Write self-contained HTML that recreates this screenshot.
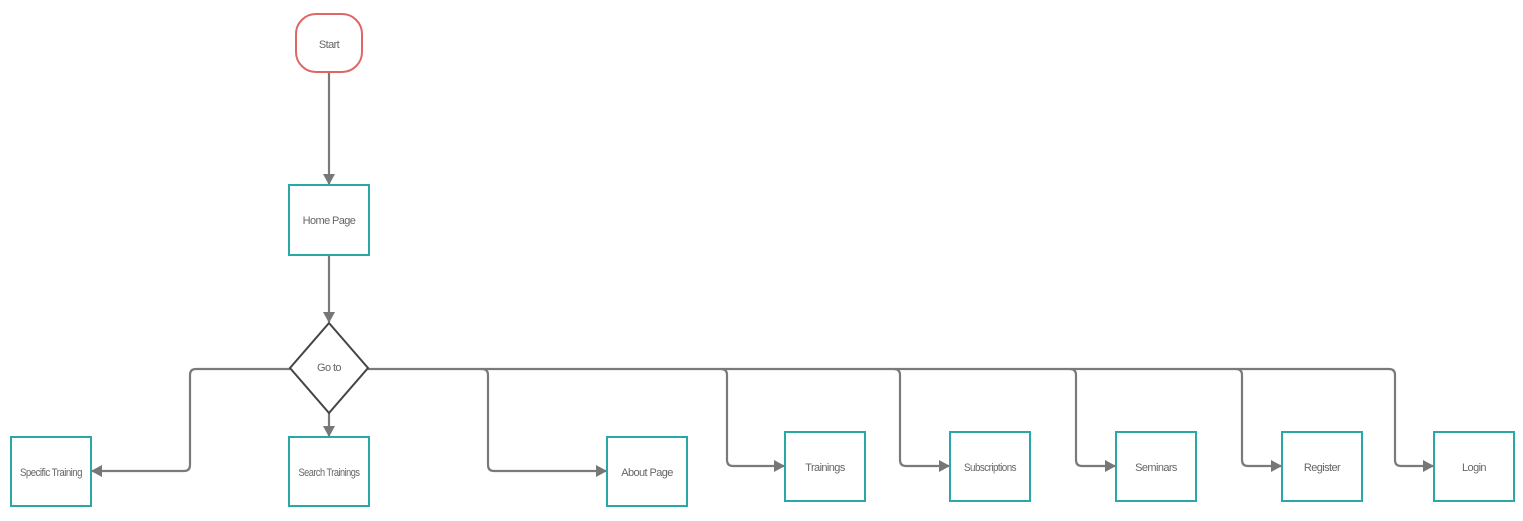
<!DOCTYPE html>
<html><head><meta charset="utf-8"><style>
html,body{margin:0;padding:0;background:#fff;}
svg{display:block;}
text{font-family:"Liberation Sans",sans-serif;font-size:11px;fill:#666;text-anchor:middle;dominant-baseline:central;letter-spacing:-0.6px;}
</style></head><body>
<svg width="1523" height="521" viewBox="0 0 1523 521">
<defs>
<marker id="a" markerWidth="11" markerHeight="12" refX="10" refY="6" orient="auto" markerUnits="userSpaceOnUse">
<path d="M0,0 L11,6 L0,12 z" fill="#777"/>
</marker>
</defs>
<g fill="none" stroke="#7a7a7a" stroke-width="2.2">
<path d="M329,73 V184" marker-end="url(#a)"/>
<path d="M329,255 V322" marker-end="url(#a)"/>
<path d="M329,413 V436" marker-end="url(#a)"/>
<path d="M290,369 H196 Q190,369 190,375 V465 Q190,471 184,471 H92" marker-end="url(#a)"/>
<path d="M368,369 H1389 Q1395,369 1395,375 V460 Q1395,466 1401,466 H1433" marker-end="url(#a)"/>
<path d="M482,369 Q488,369 488,375 V465 Q488,471 494,471 H606" marker-end="url(#a)"/>
<path d="M721,369 Q727,369 727,375 V460 Q727,466 733,466 H784" marker-end="url(#a)"/>
<path d="M894,369 Q900,369 900,375 V460 Q900,466 906,466 H949" marker-end="url(#a)"/>
<path d="M1070,369 Q1076,369 1076,375 V460 Q1076,466 1082,466 H1115" marker-end="url(#a)"/>
<path d="M1236,369 Q1242,369 1242,375 V460 Q1242,466 1248,466 H1281" marker-end="url(#a)"/>
</g>
<rect x="296" y="14" width="66" height="58" rx="20" fill="#fff" stroke="#e06666" stroke-width="2"/>
<text x="329" y="45">Start</text>
<g fill="#fff" stroke="#2aa8a8" stroke-width="2">
<rect x="289" y="185" width="80" height="70"/>
<rect x="11" y="437" width="80" height="69"/>
<rect x="289" y="437" width="80" height="69"/>
<rect x="607" y="437" width="80" height="69"/>
<rect x="785" y="432" width="80" height="69"/>
<rect x="950" y="432" width="80" height="69"/>
<rect x="1116" y="432" width="80" height="69"/>
<rect x="1282" y="432" width="80" height="69"/>
<rect x="1434" y="432" width="80" height="69"/>
</g>
<path d="M329,323 L368,368 L329,413 L290,368 z" fill="#fff" stroke="#444" stroke-width="2"/>
<text x="329" y="368">Go to</text>
<text x="329" y="221">Home Page</text>
<text x="51" y="473" textLength="62" lengthAdjust="spacingAndGlyphs">Specific Training</text>
<text x="329" y="473" textLength="61" lengthAdjust="spacingAndGlyphs">Search Trainings</text>
<text x="647" y="473">About Page</text>
<text x="825" y="468">Trainings</text>
<text x="990" y="468" textLength="52" lengthAdjust="spacingAndGlyphs">Subscriptions</text>
<text x="1156" y="468">Seminars</text>
<text x="1322" y="468">Register</text>
<text x="1474" y="468">Login</text>
</svg>
</body></html>
